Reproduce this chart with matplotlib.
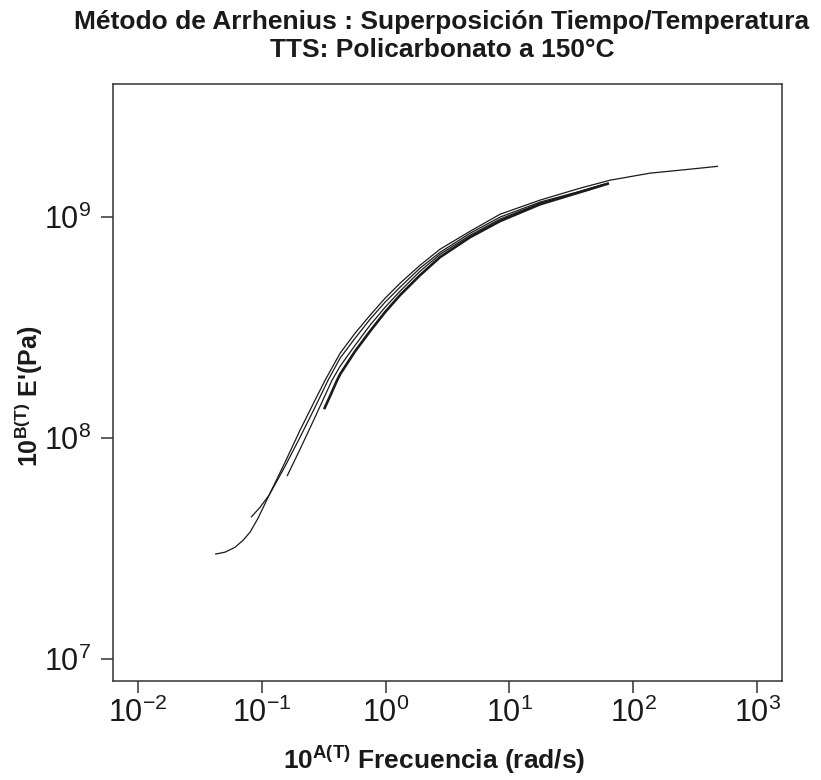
import numpy as np
import matplotlib
matplotlib.use("Agg")
import matplotlib.pyplot as plt
from matplotlib.ticker import NullLocator

plt.rcParams['font.family'] = ['Liberation Sans', 'DejaVu Sans']
plt.rcParams['mathtext.fontset'] = 'custom'
plt.rcParams['mathtext.rm'] = 'Liberation Sans'
plt.rcParams['mathtext.it'] = 'Liberation Sans:italic'
plt.rcParams['mathtext.bf'] = 'Liberation Sans:bold'

# ---- data (log10 of shifted frequency [rad/s], log10 of shifted E' [Pa]) ----
logw_A = [-1.376, -1.295, -1.215, -1.150, -1.094, -1.029, -0.940, -0.811, -0.690, -0.569,
          -0.488, -0.367, -0.246, -0.125, -0.004, 0.117, 0.278, 0.440, 0.682, 0.924,
          1.247, 1.570, 1.812, 2.135, 2.458, 2.684]
logE_A = [7.474, 7.483, 7.505, 7.537, 7.573, 7.637, 7.741, 7.890, 8.035, 8.171,
          8.261, 8.383, 8.474, 8.555, 8.632, 8.700, 8.781, 8.854, 8.935, 9.012,
          9.076, 9.130, 9.166, 9.198, 9.216, 9.229]

logw_B = [-1.086, -1.013, -0.940, -0.811, -0.690, -0.569, -0.464, -0.367, -0.246, -0.125,
          -0.004, 0.117, 0.278, 0.440, 0.682, 0.924, 1.247, 1.570, 1.764]
logE_B = [7.641, 7.686, 7.741, 7.872, 8.003, 8.139, 8.261, 8.361, 8.451, 8.537,
          8.614, 8.682, 8.768, 8.840, 8.926, 8.999, 9.067, 9.116, 9.148]

logw_C = [-0.795, -0.690, -0.569, -0.432, -0.367, -0.246, -0.125, -0.004, 0.117, 0.278,
          0.440, 0.682, 0.924, 1.247, 1.570, 1.650]
logE_C = [7.827, 7.949, 8.094, 8.261, 8.324, 8.419, 8.510, 8.591, 8.664, 8.754,
          8.831, 8.917, 8.990, 9.062, 9.112, 9.124]

logw_D = [-0.496, -0.448, -0.391, -0.367, -0.246, -0.125, -0.004, 0.117, 0.278, 0.440,
          0.682, 0.924, 1.247, 1.570, 1.804]
logE_D = [8.130, 8.189, 8.261, 8.288, 8.392, 8.483, 8.569, 8.646, 8.736, 8.818,
          8.908, 8.981, 9.057, 9.112, 9.152]

xticks = [1e-2, 1e-1, 1e0, 1e1, 1e2, 1e3]
yticks = [1e7, 1e8, 1e9]

title = "Método de Arrhenius : Superposición Tiempo/Temperatura\nTTS: Policarbonato a 150°C"
xlabel = r"$\mathbf{10^{A(T)}}$ Frecuencia (rad/s)"
ylabel = r"$\mathbf{10^{B(T)}}$ E'(Pa)"

# ---- figure ----
fig = plt.figure(figsize=(8.21, 7.8), dpi=100)
ax = fig.add_axes([113 / 821, 99 / 780, 669 / 821, 596.7 / 780])
ax.set_xscale('log')
ax.set_yscale('log')

lc = '#1a1a1a'
for lw_, le_, w in [(logw_A, logE_A, 0.9), (logw_B, logE_B, 0.9),
                    (logw_C, logE_C, 0.9), (logw_D, logE_D, 1.9)]:
    ax.plot(10 ** np.array(lw_), 10 ** np.array(le_), color=lc, lw=w,
            solid_capstyle='butt')

ax.set_xlim(10 ** -2.2, 10 ** 3.2)
ax.set_ylim(10 ** 6.9, 10 ** 9.6)
ax.set_xticks(xticks)
ax.set_yticks(yticks)
ax.xaxis.set_minor_locator(NullLocator())
ax.yaxis.set_minor_locator(NullLocator())

for s in ax.spines.values():
    s.set_color('#333333')
    s.set_linewidth(1.1)
ax.tick_params(direction='out', length=8.6, width=1.1, color='#333333',
               labelsize=22, labelcolor='#1a1a1a')
ax.tick_params(axis='x', pad=3.5)
ax.tick_params(axis='y', pad=7)

fig.text(442 / 821, 1 - 36 / 780, title, ha='center', va='center',
         fontsize=19, fontweight='bold', color='#1a1a1a', linespacing=1.2)
fig.text(434 / 821, 1 - 760 / 780, xlabel, ha='center', va='center',
         fontsize=19, fontweight='bold', color='#1a1a1a')
fig.text(29 / 821, 1 - 396 / 780, ylabel, ha='center', va='center', rotation=90,
         fontsize=18, fontweight='bold', color='#1a1a1a')

fig.savefig('out.png', dpi=100, facecolor='white')
